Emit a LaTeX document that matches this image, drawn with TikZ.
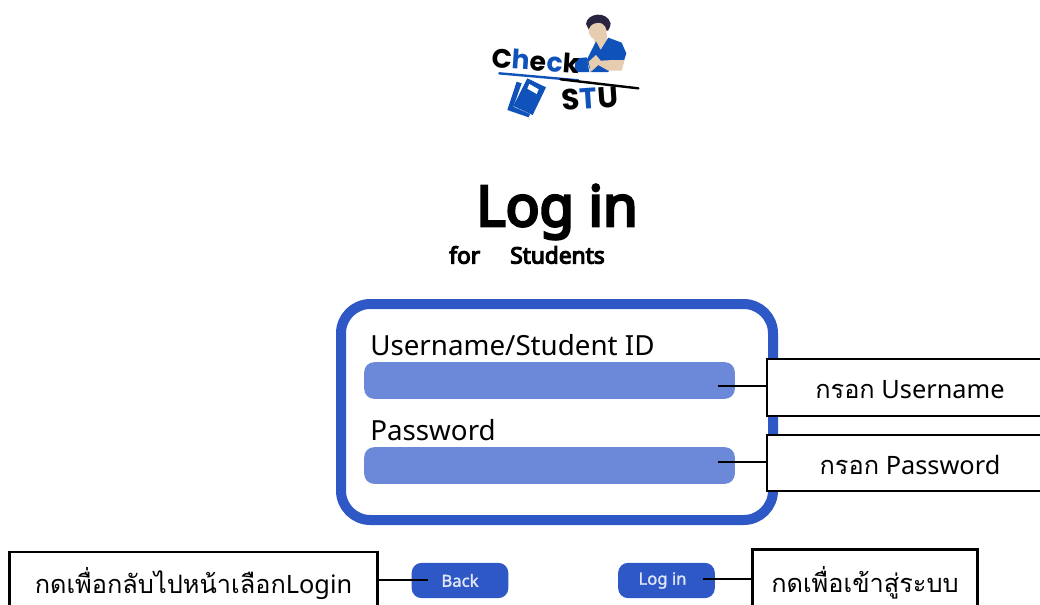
\documentclass[tikz,border=0pt]{standalone}
\usepackage{fontspec}
\setmainfont{Noto Sans}
\newfontfamily\thaif[Script=Thai]{Loma}
\newfontfamily\logofont{Poppins}
\newfontfamily\boldf[FakeBold=5]{Noto Sans}
\newfontfamily\midf[FakeBold=1.5]{Noto Sans}
\definecolor{framebl}{HTML}{2E58C6}
\definecolor{fieldbl}{HTML}{6C89D9}
\definecolor{logobl}{HTML}{0F52BA}
\definecolor{hair}{HTML}{2B2440}
\definecolor{skin}{HTML}{E6CDB0}
\tikzset{
 panel/.style={draw=framebl,line width=7.5pt,rounded corners=22pt,fill=white,minimum width=324pt,minimum height=162pt,inner sep=0pt},
 field/.style={fill=fieldbl,rounded corners=7.5pt,minimum width=278pt,minimum height=27.5pt,inner sep=0pt},
 btn/.style={fill=framebl,rounded corners=7.5pt,minimum width=72.5pt,minimum height=26.5pt,inner sep=0pt,text=white!85!framebl,font=\midf\fontsize{12.5pt}{14pt}\selectfont},
 callout/.style={draw=black,line width=2pt,fill=white,inner sep=0pt,align=center},
 calltext/.style={font=\fontsize{19pt}{22pt}\selectfont},
 fieldlabel/.style={anchor=west,inner sep=0pt,font=\fontsize{20.8pt}{24pt}\selectfont},
 wire/.style={draw=black,line width=2.1pt},
 logotxt/.style={inner sep=0pt,font=\logofont\bfseries\fontsize{20pt}{20pt}\selectfont}
}
\begin{document}
\begin{tikzpicture}[x=0.75pt,y=-0.75pt]
\useasboundingbox (0,0) rectangle (1040,604);
\clip (0,0) rectangle (1040,604);
% logo
\begin{scope}[shift={(470,0)},x=0.25pt,y=-0.25pt]
 \fill[logobl] (318,175) -- (350,172) -- (358,216) -- (312,216) -- cycle;
 \fill[skin] (370,110) -- (410,100) -- (412,125) -- (392,150) -- (375,130) -- cycle;
 \fill[logobl] (378,124) -- (392,150) -- (415,113) -- (455,128) -- (469,160) -- (462,182) -- (430,180) -- (415,216) -- (362,216) -- (350,180) -- cycle;
 \fill[skin] (356,185) -- (378,165) -- (392,182) -- (430,180) -- (464,180) -- (455,212) -- (415,212) -- (385,195) -- (362,216) -- cycle;
 \fill[skin] (383,88) ellipse [x radius=7pt,y radius=8pt];
 \fill[hair] (348,72) .. controls (350,40) and (410,30) .. (422,70) .. controls (420,85) and (414,95) .. (410,92) .. controls (408,78) and (398,68) .. (385,68) .. controls (372,70) and (362,72) .. (356,88) -- cycle;
 \fill[logobl] (140,245) -- (112,330) -- (176,352) -- (180,342) -- (130,320) -- (155,250) -- cycle;
 \fill[logobl] (172,235) -- (228,262) -- (188,345) -- (130,318) -- cycle;
 \fill[white] (178,252) -- (206,268) -- (200,282) -- (172,266) -- cycle;
 \draw[logobl,line width=1.8pt,line cap=round] (88,220) -- (325,241);
 \draw[black,line width=1.8pt,line cap=round] (272,238) -- (505,265);
 \node[logotxt,rotate=-4] (logocheck) at (197,182) {\textcolor{black}{C}\textcolor{logobl}{h}\textcolor{black}{e}\textcolor{logobl}{c}\textcolor{black}{k}};
 \node[logotxt,rotate=4,font=\logofont\bfseries\fontsize{22pt}{22pt}\selectfont] (logostu) at (360,296) {\textcolor{black}{S}\textcolor{logobl}{T}\textcolor{black}{U}};
\end{scope}
% titles
\node[inner sep=0pt,font=\boldf\fontsize{42pt}{50pt}\selectfont] (title) at (557,212) {Log in};
\node[inner sep=0pt,anchor=west,font=\boldf\fontsize{17pt}{20pt}\selectfont] (subfor) at (449,255) {for};
\node[inner sep=0pt,anchor=west,font=\boldf\fontsize{17pt}{20pt}\selectfont] (substud) at (510,255) {Students};
% panel
\node[panel] (pn) at (557,412) {};
\node[fieldlabel] (ulabel) at (370,345) {Username/Student ID};
\node[field] (ufield) at (549.5,380.5) {};
\node[fieldlabel] (plabel) at (370,430) {Password};
\node[field] (pfield) at (549.5,465.5) {};
\coordinate (uend) at (718,386);
\coordinate (pend) at (718,462);
% callouts
\node[callout,calltext,minimum width=214.5pt,minimum height=42.75pt] (ubox) at (910,387.5) {\raisebox{-8.6pt}[0pt][0pt]{{\thaif กรอก} Username}};
\node[callout,calltext,minimum width=214.5pt,minimum height=42pt] (pbox) at (910,463) {\raisebox{-8.3pt}[0pt][0pt]{{\thaif กรอก} Password}};
% buttons
\node[btn] (back) at (460,580.5) {Back};
\node[btn] (login) at (666.5,580.5) {\hspace*{-6pt}Log in};
\coordinate (backend) at (428,580);
\coordinate (loginend) at (703,579);
\node[callout,calltext,minimum width=276pt,minimum height=48pt] (bbox) at (193.5,584) {{\thaif กดเพื่อกลับไปหน้าเลือก}Login};
\node[callout,calltext,minimum width=169pt,minimum height=50pt] (lbox) at (865,583) {\thaif กดเพื่อเข้าสู่ระบบ};
\draw[wire] (ubox.west |- uend) -- (uend);
\draw[wire] (pbox.west |- pend) -- (pend);
\draw[wire] (bbox.east |- backend) -- (backend);
\draw[wire] (lbox.west |- loginend) -- (loginend);
\end{tikzpicture}
\end{document}
